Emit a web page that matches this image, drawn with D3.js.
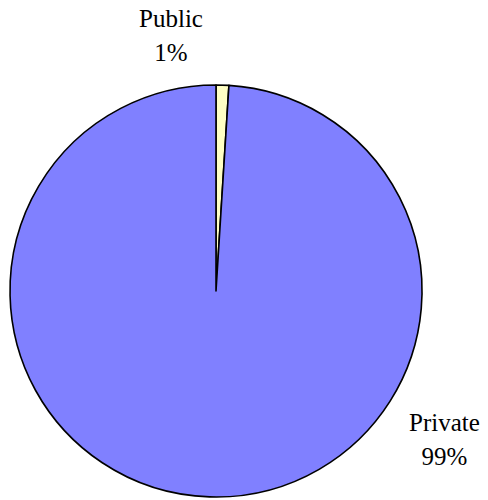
<!DOCTYPE html>
<html>
<head>
<meta charset="utf-8">
<script src="https://cdn.jsdelivr.net/npm/d3@7"></script>
<style>
  html, body { margin: 0; padding: 0; background: #fff; }
  svg { display: block; }
  text { font-family: "Liberation Serif", "Times New Roman", serif; font-size: 25px; fill: #000; }
</style>
</head>
<body>
<svg id="chart" width="488" height="500"></svg>
<script>
// Ownership share
const categories = ["Public", "Private"];
const shares = [1, 99];
const colors = ["#ffffc4", "#8080ff"];

const svg = d3.select("#chart");
const cx = 216, cy = 291, radius = 206;

const pie = d3.pie().sort(null).value(d => d.value);
const arcs = pie(categories.map((c, i) => ({ name: c, value: shares[i], color: colors[i] })));
const arc = d3.arc().innerRadius(0).outerRadius(radius);

const g = svg.append("g").attr("transform", `translate(${cx},${cy})`);

g.selectAll("path")
  .data(arcs)
  .join("path")
  .attr("d", arc)
  .attr("fill", d => d.data.color)
  .attr("stroke", "#000")
  .attr("stroke-width", 1.6)
  .attr("stroke-linejoin", "round");

// Label anchors, placed just outside the rim of each slice
const labelPos = {
  Public: [-45, -264],
  Private: [228.5, 140]
};

const labels = g.selectAll("g.label")
  .data(arcs)
  .join("g")
  .attr("class", "label")
  .attr("transform", d => `translate(${labelPos[d.data.name][0]},${labelPos[d.data.name][1]})`);

labels.append("text")
  .attr("text-anchor", "middle")
  .text(d => d.data.name);

labels.append("text")
  .attr("text-anchor", "middle")
  .attr("y", 34)
  .text(d => d3.format(".0f")(d.data.value) + "%");
</script>
</body>
</html>
